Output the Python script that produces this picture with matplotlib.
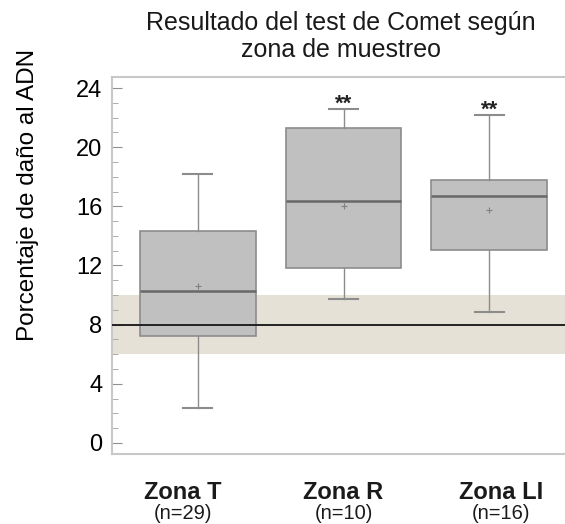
import matplotlib
matplotlib.use('Agg')
import matplotlib.pyplot as plt

plt.rcParams['font.family'] = ['Liberation Sans', 'DejaVu Sans']

# Box statistics (percent DNA damage)
zones = ['Zona T', 'Zona R', 'Zona LI']
n_labels = ['(n=29)', '(n=10)', '(n=16)']
whisker_low = [2.35, 9.7, 8.85]
q1 = [7.2, 11.85, 13.05]
medians = [10.3, 16.35, 16.7]
means = [10.6, 16.0, 15.75]
q3 = [14.3, 21.3, 17.8]
whisker_high = [18.2, 22.6, 22.2]
signif = ['', '**', '**']

ref_value = 8
ref_band = (6, 10)

fig = plt.figure(figsize=(5.65, 5.24), dpi=100)
ax = fig.add_axes([0.198, 0.1336, 0.81, 0.7195])

stats_list = []
for i in range(len(zones)):
    stats_list.append({'whislo': whisker_low[i], 'q1': q1[i], 'med': medians[i],
                       'mean': means[i], 'q3': q3[i], 'whishi': whisker_high[i],
                       'fliers': [], 'label': zones[i]})

ax.axhspan(ref_band[0], ref_band[1], color='#e6e1d6', lw=0, zorder=0)

positions = list(range(len(zones)))
ax.bxp(stats_list, positions=positions, widths=0.795, patch_artist=True,
       showmeans=True, showfliers=False,
       boxprops=dict(facecolor='#c0c0c0', edgecolor='#8c8c8c', lw=1.2),
       medianprops=dict(color='#686868', lw=1.8),
       whiskerprops=dict(color='#8c8c8c', lw=1.0),
       capprops=dict(color='#8c8c8c', lw=1.5),
       capwidths=0.2,
       meanprops=dict(marker='+', markeredgecolor='#808080', markersize=5, mew=0.8),
       zorder=2)

ax.axhline(ref_value, color='#222222', lw=1.4, zorder=3)

# significance stars sit right on top of the upper whisker cap
for i, s in enumerate(signif):
    if s:
        ax.text(positions[i], whisker_high[i] - 0.4, s, ha='center', va='bottom',
                fontsize=16, fontweight='bold', color='#222222')

ax.set_xlim(-0.589, 2.55)
ax.set_ylim(-0.75, 24.75)
ax.set_yticks(range(0, 25, 4))
ax.set_yticks(range(0, 25), minor=True)
ax.tick_params(axis='y', which='major', direction='in', length=7, color='#909090',
               labelsize=17, pad=7)
ax.tick_params(axis='y', which='minor', direction='in', length=4, color='#a0a0a0')
ax.set_xticks([])

for side in ['left', 'top', 'bottom']:
    ax.spines[side].set_color('#c8c8c8')
    ax.spines[side].set_linewidth(1.5)
ax.spines['right'].set_visible(False)

ax.set_ylabel('Porcentaje de daño al ADN', fontsize=17.5)
ax.yaxis.set_label_coords(-0.16, 0.687)
fig.text(0.604, 0.93, 'Resultado del test de Comet según\nzona de muestreo',
         ha='center', va='center', fontsize=18, linespacing=1.15, color='#1a1a1a')

label_shift = [-0.1, 0.0, 0.08]
for i in range(len(zones)):
    ax.text(positions[i] + label_shift[i], -3.35, zones[i], ha='center', va='center',
            fontsize=17, fontweight='bold', color='#1a1a1a')
    ax.text(positions[i] + label_shift[i], -4.8, n_labels[i], ha='center', va='center',
            fontsize=14.5, color='#1a1a1a')

fig.savefig('out.png', dpi=100)
